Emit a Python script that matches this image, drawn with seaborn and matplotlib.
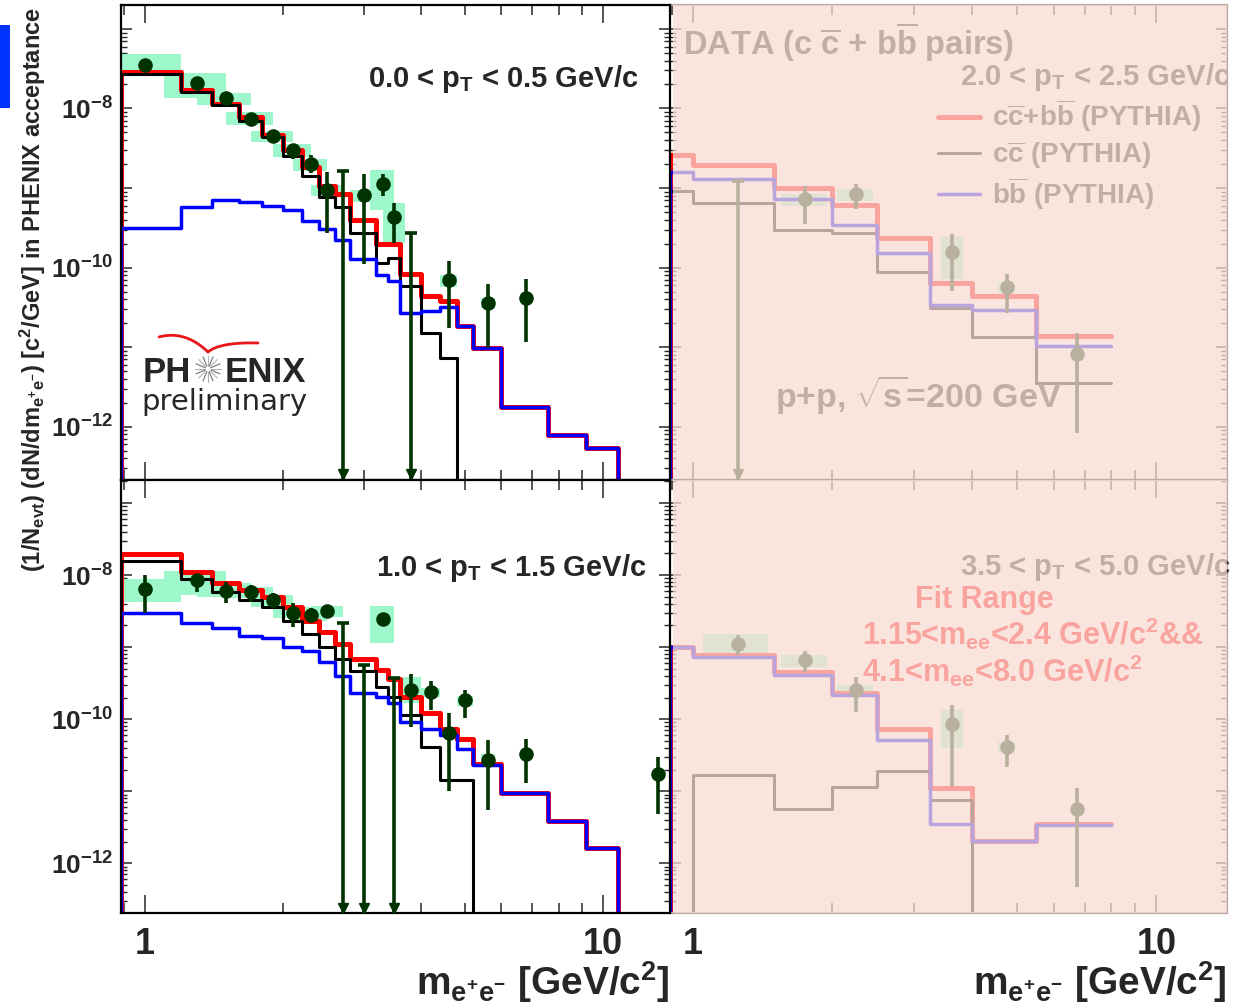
import numpy as np
import matplotlib
matplotlib.use("Agg")
import matplotlib.pyplot as plt
import seaborn as sns
from matplotlib.patches import Rectangle
from matplotlib.lines import Line2D
from matplotlib.ticker import LogLocator, FixedLocator, FuncFormatter, NullFormatter

# ---------------- data ----------------
LEFT_EDGES = [0.886, 1.2, 1.4, 1.6, 1.8, 2.0, 2.2, 2.4, 2.6, 2.8, 3.2, 3.4, 3.6,
              4.0, 4.4, 4.8, 5.2, 6.0, 7.6, 9.2, 10.8, 14.0]
RIGHT_EDGES = [0.893, 1.0, 1.5, 2.0, 2.5, 3.25, 4.0, 5.5, 8.0]

# pT 0.0-0.5 (top left)
TL_SUM = [2.88e-8, 1.70e-8, 1.15e-8, 7.76e-9, 4.68e-9, 3.02e-9, 1.82e-9, 1.05e-9, 8.32e-10,
          3.98e-10, 1.95e-10, 1.95e-10, 8.32e-11, 4.37e-11, 3.80e-11, 1.82e-11, 9.77e-12,
          1.78e-12, 7.94e-13, 5.37e-13, 0]
TL_CC = [2.69e-8, 1.62e-8, 1.10e-8, 6.92e-9, 4.37e-9, 2.51e-9, 1.41e-9, 7.76e-10, 5.75e-10,
         2.75e-10, 1.15e-10, 1.32e-10, 5.89e-11, 1.51e-11, 7.24e-12, 0, 0, 0, 0, 0, 0]
TL_BB = [3.16e-10, 5.75e-10, 7.08e-10, 6.76e-10, 5.89e-10, 5.25e-10, 3.80e-10, 3.09e-10,
         2.24e-10, 1.29e-10, 8.13e-11, 6.76e-11, 2.69e-11, 2.82e-11, 3.24e-11, 1.82e-11,
         9.77e-12, 1.78e-12, 7.94e-13, 5.37e-13, 0]
TL_M = [1.0, 1.3, 1.5, 1.7, 1.9, 2.1, 2.3, 2.5, 2.7, 3.0, 3.3, 3.5, 3.8, 4.6, 5.6, 6.8]
TL_Y = [3.55e-8, 2.09e-8, 1.35e-8, 7.41e-9, 4.47e-9, 3.02e-9, 2.00e-9, 9.33e-10, 0,
        8.13e-10, 1.12e-9, 4.27e-10, 0, 6.92e-11, 3.55e-11, 4.17e-11]
TL_HI = [3.80e-8, 2.24e-8, 1.45e-8, 7.94e-9, 4.90e-9, 3.55e-9, 2.57e-9, 1.58e-9, 1.62e-9,
         1.48e-9, 1.48e-9, 6.46e-10, 2.75e-10, 1.20e-10, 6.17e-11, 7.08e-11]
TL_LO = [3.31e-8, 1.91e-8, 1.26e-8, 6.76e-9, 4.07e-9, 2.29e-9, 1.55e-9, 2.75e-10, 0,
         1.10e-10, 7.94e-10, 2.04e-10, 0, 1.74e-11, 9.77e-12, 1.17e-11]
TL_SYS_HI = [4.90e-8, 2.82e-8, 1.58e-8, 8.91e-9, 5.25e-9, 3.55e-9, 2.29e-9, 1.10e-9, 0,
             9.55e-10, 1.70e-9, 6.46e-10, 0, 8.13e-11, 4.17e-11, 0]
TL_SYS_LO = [3.02e-8, 1.35e-8, 1.12e-8, 6.17e-9, 3.80e-9, 2.45e-9, 1.62e-9, 7.94e-10, 0,
             6.76e-10, 5.25e-10, 2.04e-10, 0, 5.75e-11, 3.09e-11, 0]

# pT 1.0-1.5 (bottom left)
BL_SUM = [1.95e-8, 1.12e-8, 7.76e-9, 6.17e-9, 5.01e-9, 3.63e-9, 2.34e-9, 1.62e-9, 1.10e-9,
          6.92e-10, 4.79e-10, 3.63e-10, 2.04e-10, 1.20e-10, 7.41e-11, 5.37e-11, 2.40e-11,
          9.33e-12, 3.89e-12, 1.62e-12, 0]
BL_CC = [1.58e-8, 8.71e-9, 5.89e-9, 4.47e-9, 3.63e-9, 2.34e-9, 1.51e-9, 1.00e-9, 6.76e-10,
         4.68e-10, 2.82e-10, 2.04e-10, 1.15e-10, 4.17e-11, 1.41e-11, 1.41e-11, 0, 0, 0, 0, 0]
BL_BB = [3.02e-9, 2.14e-9, 1.82e-9, 1.41e-9, 1.32e-9, 1.00e-9, 8.71e-10, 6.31e-10, 3.98e-10,
         2.34e-10, 2.04e-10, 1.70e-10, 9.12e-11, 7.41e-11, 6.03e-11, 3.89e-11, 2.29e-11,
         9.33e-12, 3.89e-12, 1.62e-12, 0]
BL_M = [1.0, 1.3, 1.5, 1.7, 1.9, 2.1, 2.3, 2.5, 2.7, 3.0, 3.3, 3.5, 3.8, 4.2, 4.6, 5.0, 5.6,
        6.8, 13.2]
BL_Y = [6.46e-9, 8.51e-9, 6.03e-9, 5.75e-9, 4.47e-9, 3.02e-9, 2.82e-9, 3.16e-9, 0, 0,
        2.45e-9, 0, 2.57e-10, 2.40e-10, 6.46e-11, 1.82e-10, 2.75e-11, 3.31e-11, 1.74e-11]
BL_HI = [1.00e-8, 1.05e-8, 8.13e-9, 7.24e-9, 5.62e-9, 4.07e-9, 3.55e-9, 3.80e-9, 2.14e-9,
         5.62e-10, 2.95e-9, 3.72e-10, 4.27e-10, 3.39e-10, 1.20e-10, 2.57e-10, 5.13e-11,
         5.37e-11, 2.95e-11]
BL_LO = [3.02e-9, 5.89e-9, 4.07e-9, 4.27e-9, 3.47e-9, 1.91e-9, 2.14e-9, 2.63e-9, 0, 0,
         2.09e-9, 0, 7.76e-11, 1.35e-10, 1.02e-11, 1.05e-10, 5.50e-12, 1.29e-11, 4.90e-12]
BL_SYS_HI = [8.71e-9, 1.15e-8, 7.76e-9, 6.92e-9, 5.25e-9, 3.63e-9, 3.47e-9, 3.72e-9, 0, 0,
             3.72e-9, 0, 3.89e-10, 2.75e-10, 0, 2.09e-10, 3.24e-11, 0, 0]
BL_SYS_LO = [4.17e-9, 5.25e-9, 5.01e-9, 4.79e-9, 3.63e-9, 2.51e-9, 2.34e-9, 2.63e-9, 0, 0,
             1.15e-9, 0, 1.66e-10, 2.04e-10, 0, 1.51e-10, 2.29e-11, 0, 0]

# pT 2.0-2.5 (top right)
TR_SUM = [2.57e-9, 1.95e-9, 1.00e-9, 6.03e-10, 2.34e-10, 6.46e-11, 4.37e-11, 1.38e-11]
TR_CC = [9.12e-10, 6.46e-10, 2.95e-10, 2.75e-10, 8.71e-11, 3.09e-11, 1.35e-11, 3.55e-12]
TR_BB = [1.58e-9, 1.29e-9, 7.24e-10, 3.47e-10, 1.51e-10, 3.39e-11, 2.95e-11, 1.02e-11]
TR_M = [1.25, 1.75, 2.25, 3.63, 4.75, 6.75]
TR_Y = [0, 7.24e-10, 8.51e-10, 1.58e-10, 5.62e-11, 8.13e-12]
TR_HI = [1.23e-9, 1.07e-9, 1.12e-9, 2.63e-10, 8.32e-11, 1.51e-11]
TR_LO = [0, 3.55e-10, 5.50e-10, 5.01e-11, 2.69e-11, 8.32e-13]
TR_SYS_HI = [0, 8.51e-10, 9.77e-10, 2.40e-10, 6.61e-11, 0]
TR_SYS_LO = [0, 5.89e-10, 6.92e-10, 7.24e-11, 4.79e-11, 0]

# pT 3.5-5.0 (bottom right)
BR_SUM = [1.00e-9, 7.76e-10, 4.47e-10, 2.34e-10, 7.24e-11, 1.12e-11, 2.04e-12, 3.47e-12]
BR_CC = [0, 1.70e-11, 5.62e-12, 1.15e-11, 1.91e-11, 7.59e-12, 0, 0]
BR_BB = [1.00e-9, 7.41e-10, 4.17e-10, 2.19e-10, 5.13e-11, 3.55e-12, 2.04e-12, 3.39e-12]
BR_M = [1.25, 1.75, 2.25, 3.63, 4.75, 6.75]
BR_Y = [1.12e-9, 6.61e-10, 2.57e-10, 8.51e-11, 4.17e-11, 5.62e-12]
BR_HI = [1.48e-9, 8.71e-10, 3.80e-10, 1.55e-10, 6.03e-11, 1.10e-11]
BR_LO = [7.76e-10, 4.57e-10, 1.26e-10, 1.20e-11, 2.19e-11, 4.68e-13]
BR_SYS_HI = [1.51e-9, 7.76e-10, 2.95e-10, 1.35e-10, 4.79e-11, 0]
BR_SYS_LO = [8.32e-10, 5.37e-10, 2.29e-10, 3.98e-11, 3.39e-11, 0]

PT_LABELS = ["0.0 < p$_{T}$ < 0.5 GeV/c", "1.0 < p$_{T}$ < 1.5 GeV/c",
             "2.0 < p$_{T}$ < 2.5 GeV/c", "3.5 < p$_{T}$ < 5.0 GeV/c"]
LEGEND_LABELS = [r"c$\overline{c}$+b$\overline{b}$ (PYTHIA)", r"c$\overline{c}$ (PYTHIA)",
                 r"b$\overline{b}$ (PYTHIA)"]
Y_DECADES = [1e-12, 1e-11, 1e-10, 1e-9, 1e-8, 1e-7]
X_MAJOR = [1, 10]

# ---------------- style ----------------
sns.set_style("white")
plt.rcParams.update({
    "font.family": ["Liberation Sans", "DejaVu Sans"],
    "font.weight": "bold",
    "mathtext.fontset": "custom",
    "mathtext.rm": "Liberation Sans:bold",
    "mathtext.it": "Liberation Sans:bold",
    "mathtext.bf": "Liberation Sans:bold",
    "mathtext.sf": "Liberation Sans:bold",
    "mathtext.default": "rm",
    "axes.linewidth": 1.6,
})

RED, BLACK, BLUE = "#ff0000", "#000000", "#0000ff"
GREEN = "#003300"
BOX_COLOR = "#9ef7cb"
WASH = (248 / 255, 220 / 255, 212 / 255)
FLOOR = 1e-14
BOX_HW = 0.2

W, H = 1233, 1007
fig = plt.figure(figsize=(W / 100, H / 100), dpi=100)


def rect(x0, y0, x1, y1):
    return [x0 / W, 1 - y1 / H, (x1 - x0) / W, (y1 - y0) / H]


ax_tr = fig.add_axes(rect(670, 5, 1227, 480))
ax_br = fig.add_axes(rect(670, 480, 1227, 913))
ax_tl = fig.add_axes(rect(121, 5, 670, 480))
ax_bl = fig.add_axes(rect(121, 480, 670, 913))

for ax in (ax_tr, ax_br, ax_tl, ax_bl):
    ax.set_xscale("log")
    ax.set_yscale("log")


def draw_hist(ax, edges, vals, color, lw, z):
    vals = [v if v > 0 else FLOOR for v in vals]
    x = [edges[0]] + list(edges)
    y = [FLOOR] + vals + [vals[-1]]
    sns.lineplot(x=x, y=y, ax=ax, color=color, lw=lw, drawstyle="steps-post",
                 estimator=None, sort=False, zorder=z)


def draw_points(ax, m, y, hi, lo, shi, slo):
    m, y, hi, lo = map(np.asarray, (m, y, hi, lo))
    shi, slo = np.asarray(shi), np.asarray(slo)
    hb = shi > 0
    ax.bar(m[hb] - BOX_HW, shi[hb] - slo[hb], bottom=slo[hb], width=2 * BOX_HW,
           align="edge", color=BOX_COLOR, linewidth=0, zorder=1)
    ax.vlines(m, np.where(lo > 0, lo, FLOOR), hi, color=GREEN, lw=2.6, zorder=4)
    arrow = y <= 0
    ax.plot(m[arrow], hi[arrow], ls="none", marker="_", ms=9, mew=2.6, color=GREEN, zorder=4)
    ax.plot(m[arrow], np.full(arrow.sum(), 0.012), transform=ax.get_xaxis_transform(),
            ls="none", marker="v", ms=7, color=GREEN, zorder=4, clip_on=False)
    sns.scatterplot(x=m[~arrow], y=y[~arrow], ax=ax, color=GREEN, s=110, linewidth=0,
                    zorder=5)


panels = [
    (ax_tl, LEFT_EDGES, TL_SUM, TL_CC, TL_BB, TL_M, TL_Y, TL_HI, TL_LO, TL_SYS_HI, TL_SYS_LO),
    (ax_bl, LEFT_EDGES, BL_SUM, BL_CC, BL_BB, BL_M, BL_Y, BL_HI, BL_LO, BL_SYS_HI, BL_SYS_LO),
    (ax_tr, RIGHT_EDGES, TR_SUM, TR_CC, TR_BB, TR_M, TR_Y, TR_HI, TR_LO, TR_SYS_HI, TR_SYS_LO),
    (ax_br, RIGHT_EDGES, BR_SUM, BR_CC, BR_BB, BR_M, BR_Y, BR_HI, BR_LO, BR_SYS_HI, BR_SYS_LO),
]
for ax, edges, s, cc, bb, m, y, hi, lo, shi, slo in panels:
    draw_points(ax, m, y, hi, lo, shi, slo)
    draw_hist(ax, edges, s, RED, 3.6, 2.0)
    draw_hist(ax, edges, cc, BLACK, 2.2, 2.1)
    draw_hist(ax, edges, bb, BLUE, 2.5, 2.2)

# limits / ticks
ax_tl.set_xlim(0.886, 14.0)
ax_bl.set_xlim(0.886, 14.0)
ax_tr.set_xlim(0.893, 14.2)
ax_br.set_xlim(0.893, 14.2)
for ax in (ax_tl, ax_tr):
    ax.set_ylim(10 ** -12.67, 10 ** -6.70)
for ax in (ax_bl, ax_br):
    ax.set_ylim(10 ** -12.69, 10 ** -6.68)


def ylab(v, pos):
    e = int(round(np.log10(v)))
    return rf"$10^{{{e}}}$" if e % 2 == 0 else ""


for ax in (ax_tl, ax_bl, ax_tr, ax_br):
    ax.xaxis.set_major_locator(FixedLocator(X_MAJOR))
    ax.xaxis.set_minor_locator(LogLocator(base=10, subs=np.arange(2, 10), numticks=10))
    ax.xaxis.set_major_formatter(FuncFormatter(lambda v, p: f"{v:g}"))
    ax.xaxis.set_minor_formatter(NullFormatter())
    ax.yaxis.set_major_locator(FixedLocator(Y_DECADES))
    ax.yaxis.set_minor_locator(LogLocator(base=10, subs=np.arange(2, 10), numticks=20))
    ax.yaxis.set_major_formatter(FuncFormatter(ylab))
    ax.yaxis.set_minor_formatter(NullFormatter())
    ax.tick_params(axis="x", which="major", direction="in", length=13, width=1.1,
                   top=True, bottom=True, labelsize=26, pad=10)
    ax.tick_params(axis="x", which="minor", direction="in", length=7, width=1.1,
                   top=True, bottom=True)
    ax.tick_params(axis="y", which="major", direction="in", length=8, width=1.1,
                   left=True, right=True, labelsize=19, pad=6)
    ax.tick_params(axis="y", which="minor", direction="in", length=4, width=1.0,
                   left=True, right=True)
    ax.set_facecolor("white")

for ax in (ax_tl, ax_tr):
    ax.tick_params(axis="x", which="both", labelbottom=False)
for ax in (ax_tr, ax_br):
    ax.tick_params(axis="y", which="both", labelleft=False)
    for sp in ax.spines.values():
        sp.set_color("#bcaaa2")
    ax.spines["left"].set_visible(False)
for ax in (ax_tl, ax_bl):
    for sp in ax.spines.values():
        sp.set_color("black")

# texts in left panels
ax_tl.text(0.942, 0.827, PT_LABELS[0], transform=ax_tl.transAxes, ha="right",
           va="baseline", fontsize=21)
ax_bl.text(0.958, 0.778, PT_LABELS[1], transform=ax_bl.transAxes, ha="right",
           va="baseline", fontsize=21)

# PHENIX logo
t = ax_tl.transAxes
ax_tl.text(0.040, 0.2063, "PH", transform=t, fontsize=25, ha="left", va="baseline")
ax_tl.text(0.1894, 0.2063, "ENIX", transform=t, fontsize=25, ha="left", va="baseline")
ax_tl.text(0.0364, 0.147, "preliminary", transform=t, fontsize=21, ha="left",
           va="baseline", fontweight="normal", family=["DejaVu Sans"])
cx, cy = 0.1585, 0.234
for k in range(16):
    a = k * np.pi / 8
    ax_tl.plot([cx + 3 / 549 * np.cos(a), cx + 13 / 549 * np.cos(a)],
               [cy + 3 / 475 * np.sin(a), cy + 13 / 475 * np.sin(a)],
               transform=t, color="0.45" if k % 2 else "0.7", lw=0.8)
tt = np.linspace(0, 1, 40)[:, None]
for p0, c, p1 in [((.0692, .3011), (.1166, .3158), (.1585, .2695)),
                  ((.1585, .2695), (.1803, .2905), (.2495, .2884))]:
    p0, c, p1 = map(np.array, (p0, c, p1))
    pts = (1 - tt) ** 2 * p0 + 2 * (1 - tt) * tt * c + tt ** 2 * p1
    ax_tl.plot(pts[:, 0], pts[:, 1], transform=t, color="#e8161b", lw=2.0)

# texts in right panels (washed by overlay)
ax_tr.text(0.023, 0.895, r"DATA (c $\overline{c}$ + b$\overline{b}$ pairs)",
           transform=ax_tr.transAxes, fontsize=23.5, ha="left", va="baseline")
ax_tr.text(0.521, 0.832, PT_LABELS[2], transform=ax_tr.transAxes, fontsize=21,
           ha="left", va="baseline", clip_on=True)
ax_tr.text(0.189, 0.152, r"p+p, $\sqrt{s}$=200 GeV", transform=ax_tr.transAxes,
           fontsize=24.5, ha="left", va="baseline")
handles = [Line2D([], [], color=RED, lw=3.6), Line2D([], [], color=BLACK, lw=2.2),
           Line2D([], [], color=BLUE, lw=2.5)]
ax_tr.legend(handles, LEGEND_LABELS, loc="upper left", bbox_to_anchor=(0.481, 0.805),
             frameon=False, fontsize=20, handlelength=1.5, handletextpad=0.45,
             labelspacing=0.15, borderpad=0, borderaxespad=0)

ax_br.text(0.521, 0.781, PT_LABELS[3], transform=ax_br.transAxes, fontsize=21,
           ha="left", va="baseline")
ax_br.text(0.440, 0.704, "Fit Range", transform=ax_br.transAxes, fontsize=22,
           ha="left", va="baseline", color=RED)
ax_br.text(0.345, 0.619, "1.15<m$_{ee}$<2.4 GeV/c$^{2}$&&", transform=ax_br.transAxes,
           fontsize=22, ha="left", va="baseline", color=RED)
ax_br.text(0.345, 0.533, "4.1<m$_{ee}$<8.0 GeV/c$^{2}$", transform=ax_br.transAxes,
           fontsize=22, ha="left", va="baseline", color=RED)

# wash overlay on the right panels
for ax in (ax_tr, ax_br):
    ax.add_patch(Rectangle((0.005, 0), 0.995, 1, transform=ax.transAxes, facecolor=WASH,
                           alpha=0.75, linewidth=0, zorder=10))

# axis titles
for ax in (ax_bl, ax_br):
    ax.text(1.0, -0.19, "m$_{e^{+}e^{-}}$ [GeV/c$^{2}$]", transform=ax.transAxes,
            ha="right", va="baseline", fontsize=28, clip_on=False)
fig.text(33 / W, 1 - 290 / H,
         "(1/N$_{evt}$) (dN/dm$_{e^{+}e^{-}}$) [c$^{2}$/GeV] in PHENIX acceptance",
         rotation=90, ha="center", va="center", fontsize=17)

fig.add_artist(Rectangle((0, 1 - 108 / H), 10 / W, 83 / H, transform=fig.transFigure,
                         facecolor="#0033ff", linewidth=0))

fig.savefig("out.png", dpi=100)
